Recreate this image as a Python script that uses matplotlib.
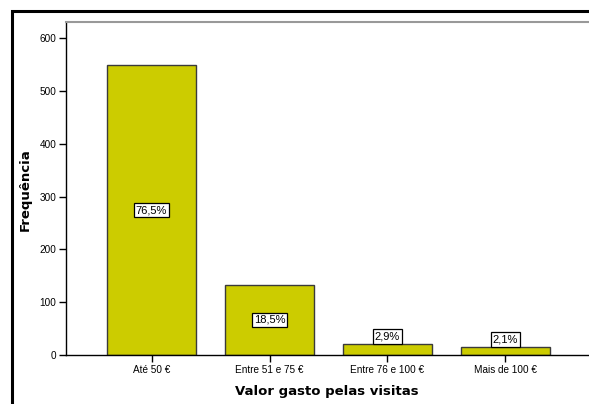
import matplotlib
matplotlib.use('Agg')
import matplotlib.pyplot as plt
from matplotlib.patches import Rectangle

categories = ['Até 50 €', 'Entre 51 e 75 €', 'Entre 76 e 100 €', 'Mais de 100 €']
counts = [549, 133, 21, 15]
pct_labels = ['76,5%', '18,5%', '2,9%', '2,1%']
yticks = [0, 100, 200, 300, 400, 500, 600]

plt.rcParams['font.family'] = ['Liberation Sans', 'DejaVu Sans']

fig = plt.figure(figsize=(5.89, 4.04), dpi=100)
ax = fig.add_axes([66/589, 49/404, 1 - 66/589, 333/404])

x = list(range(len(categories)))
ax.bar(x, counts, width=0.75, color='#cccc00', edgecolor='#3a3a3a', linewidth=1.0, zorder=2)

for xi, h, lab in zip(x, counts, pct_labels):
    box = dict(boxstyle='square,pad=0.2', fc='white', ec='black', lw=0.9)
    if h > 60:
        ax.text(xi, h / 2, lab, ha='center', va='center', fontsize=8, bbox=box, zorder=3)
    else:
        ax.text(xi, h + 5, lab, ha='center', va='bottom', fontsize=8, bbox=box, zorder=3)

ax.set_xlim(-0.725, 3.708)
ax.set_ylim(0, 631)
ax.set_xticks(x)
ax.set_xticklabels(categories, fontsize=7.2)
ax.set_yticks(yticks)
ax.set_yticklabels([str(v) for v in yticks], fontsize=7.2)
ax.tick_params(axis='both', length=5, width=1, direction='out', color='black', pad=2)

ax.spines['right'].set_visible(False)
ax.spines['top'].set_color('#999999')
ax.spines['top'].set_linewidth(1.5)
ax.spines['left'].set_linewidth(1)
ax.spines['bottom'].set_linewidth(1)

fig.text(327/589, 1 - 391/404, 'Valor gasto pelas visitas', ha='center', va='center',
         fontsize=9.5, fontweight='bold', family='DejaVu Sans')
fig.text(25/589, 1 - 190/404, 'Frequência', ha='center', va='center', rotation=90,
         fontsize=9.5, fontweight='bold', family='DejaVu Sans')

# outer frame
fig.patches.append(Rectangle((12/589, -0.1), 1.2, 1 - 11/404 + 0.1, transform=fig.transFigure,
                             fill=False, ec='black', lw=2.2, zorder=5))

fig.savefig('out.png', dpi=100)
